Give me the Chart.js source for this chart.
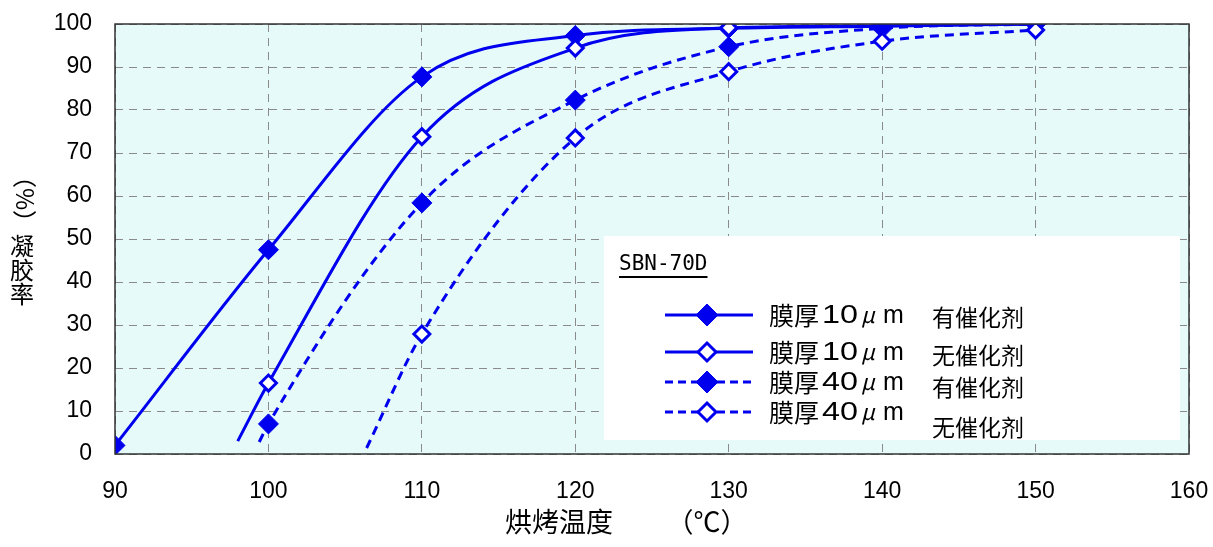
<!DOCTYPE html>
<html>
<head>
<meta charset="utf-8">
<script src="https://cdn.jsdelivr.net/npm/chart.js@4"></script>
<style>
  body { margin: 0; background: #fff; }
  #wrap { width: 1213px; height: 547px; position: relative; }
</style>
</head>
<body>
<div id="wrap"><canvas id="myChart"></canvas></div>
<script>
// temperatures (°C) and gel rate (%)
const temps = [90, 100, 110, 120, 130, 140, 150];
const film10Cat   = [2, 47.5, 87.7, 97.3, 99, 99.5, 100];
const film10NoCat = [null, 16.5, 73.8, 94.4, 99.1, 99.6, 100];
const film40Cat   = [null, 7, 58.4, 82.3, 94.7, 99, 100];
const film40NoCat = [null, null, 27.9, 73.5, 88.9, 96, 98.6];
// where each fitted curve begins (x, y) before its first marker
const curveStart10Cat   = [90, 2];
const curveStart10NoCat = [98, 3];
const curveStart40Cat   = [99.4, 2.8];
const curveStart40NoCat = [106.4, 1.4];

const legendTitle = 'SBN-70D';
const legendThick = ['10', '10', '40', '40'];
const legendNotes = ['有催化剂', '无催化剂', '有催化剂', '无催化剂'];

const blue = '#0000ee';

// builds points for a curve: start point (no marker) + measured points
const buildSeries = (start, values) => {
    let pts = [];
    let radius = [];
    if (start[0] !== temps[values.findIndex(v => v !== null)]) {
        pts.push({ x: start[0], y: start[1] });
        radius.push(0);
    }
    for (let i = 0; i < temps.length; i++) {
        if (values[i] === null) continue;
        pts.push({ x: temps[i], y: values[i] });
        radius.push(1);
    }
    return { pts, radius };
};

const makeDataset = (start, values, filled, dashed) => {
    const s = buildSeries(start, values);
    const r = filled ? 10 : 8;
    return {
        data: s.pts,
        borderColor: blue,
        borderWidth: 3,
        borderDash: dashed ? [9, 6] : [],
        cubicInterpolationMode: 'monotone',
        pointStyle: 'rectRot',
        pointRadius: s.radius.map(v => v * r),
        pointHoverRadius: s.radius.map(v => v * r),
        pointBackgroundColor: filled ? blue : '#ffffff',
        pointBorderColor: blue,
        pointBorderWidth: filled ? 1 : 3,
        fill: false,
    };
};

const diamond = (ctx, x, y, r, filled) => {
    ctx.save();
    ctx.setLineDash([]);
    ctx.beginPath();
    ctx.moveTo(x, y - r);
    ctx.lineTo(x + r, y);
    ctx.lineTo(x, y + r);
    ctx.lineTo(x - r, y);
    ctx.closePath();
    ctx.fillStyle = filled ? blue : '#fff';
    ctx.fill();
    ctx.lineWidth = filled ? 1 : 3;
    ctx.strokeStyle = blue;
    ctx.stroke();
    ctx.restore();
};

// text stretched horizontally to a given width
const wideText = (ctx, txt, x, y, w) => {
    const m = ctx.measureText(txt).width;
    ctx.save();
    ctx.translate(x, y);
    ctx.scale(w / m, 1);
    ctx.fillText(txt, 0, 0);
    ctx.restore();
};

const decorations = {
    id: 'decorations',
    beforeDraw(chart) {
        const { ctx, chartArea: a } = chart;
        ctx.save();
        ctx.fillStyle = '#e7fafa';
        ctx.fillRect(a.left, a.top, a.right - a.left, a.bottom - a.top);
        ctx.restore();
    },
    afterDatasetsDraw(chart) {
        const { ctx, chartArea: a } = chart;
        ctx.save();
        // frame
        ctx.strokeStyle = '#333';
        ctx.lineWidth = 1.5;
        ctx.strokeRect(a.left, a.top, a.right - a.left, a.bottom - a.top);

        // legend box
        ctx.fillStyle = '#ffffff';
        ctx.fillRect(604, 236, 576, 204);

        ctx.fillStyle = '#000';
        ctx.font = '21px "DejaVu Sans Mono"';
        ctx.textBaseline = 'alphabetic';
        ctx.textAlign = 'left';
        ctx.fillText(legendTitle, 619, 270);
        const tw = ctx.measureText(legendTitle).width;
        ctx.fillRect(619, 276, tw, 2);

        const rowY = [315, 352, 382, 412];
        const noteY = [317, 355, 387, 427];
        const filled = [true, false, true, false];
        const dashed = [false, false, true, true];
        for (let i = 0; i < 4; i++) {
            const y = rowY[i];
            ctx.strokeStyle = blue;
            ctx.lineWidth = 3;
            ctx.setLineDash(dashed[i] ? [8, 5] : []);
            ctx.beginPath();
            ctx.moveTo(665, y);
            ctx.lineTo(753, y);
            ctx.stroke();
            diamond(ctx, 707, y, filled[i] ? 11 : 9, filled[i]);

            ctx.fillStyle = '#000';
            ctx.textBaseline = 'middle';
            ctx.font = '25px "Noto Sans CJK JP"';
            ctx.fillText('膜厚', 769, y);
            ctx.font = '26px "Liberation Sans"';
            wideText(ctx, legendThick[i], 822, y + 1, 36);
            ctx.font = 'italic 22px "Noto Sans CJK JP"';
            ctx.fillText('μ', 861, y);
            ctx.font = '25px "Liberation Sans"';
            ctx.fillText('m', 883, y + 1);
            ctx.font = '23px "Noto Sans CJK SC"';
            ctx.fillText(legendNotes[i], 932, noteY[i]);
        }

        // axis titles
        ctx.fillStyle = '#000';
        ctx.textAlign = 'center';
        ctx.textBaseline = 'middle';
        ctx.font = '27px "Noto Sans CJK SC"';
        ctx.fillText('烘烤温度', 559, 522);
        ctx.fillText('（℃）', 707, 522);

        ctx.font = '24px "Noto Sans CJK SC"';
        ['凝', '胶', '率'].forEach((ch, i) => ctx.fillText(ch, 22, 246 + i * 24));
        ctx.translate(25, 199);
        ctx.rotate(Math.PI / 2);
        ctx.fillText('（%）', 0, 0);
        ctx.restore();
    }
};

const ctx = document.getElementById('myChart').getContext('2d');

new Chart(ctx, {
    type: 'line',
    data: {
        datasets: [
            makeDataset(curveStart40NoCat, film40NoCat, false, true),
            makeDataset(curveStart40Cat, film40Cat, true, true),
            makeDataset(curveStart10NoCat, film10NoCat, false, false),
            makeDataset(curveStart10Cat, film10Cat, true, false),
        ]
    },
    options: {
        responsive: true,
        maintainAspectRatio: false,
        animation: false,
        layout: { padding: { top: 24, right: 24, left: 0, bottom: 0 } },
        plugins: {
            legend: { display: false },
            tooltip: { enabled: false },
        },
        scales: {
            x: {
                type: 'linear',
                min: 90,
                max: 160,
                afterFit: (s) => { s.height = 93; },
                ticks: {
                    stepSize: 10,
                    color: '#000',
                    padding: 0,
                    font: { family: '"Liberation Sans"', size: 23 },
                },
                grid: { color: '#8a8a8a', lineWidth: 1, drawTicks: true, tickLength: 24, tickColor: 'rgba(0,0,0,0)' },
                border: { display: false, dash: [8, 6] },
            },
            y: {
                min: 0,
                max: 100,
                afterFit: (s) => { s.width = 115; },
                ticks: {
                    stepSize: 10,
                    color: '#000',
                    padding: 0,
                    font: { family: '"Liberation Sans"', size: 23 },
                },
                grid: { color: '#8a8a8a', lineWidth: 1, drawTicks: true, tickLength: 23, tickColor: 'rgba(0,0,0,0)' },
                border: { display: false, dash: [8, 6] },
            },
        },
    },
    plugins: [decorations],
});
</script>
</body>
</html>
